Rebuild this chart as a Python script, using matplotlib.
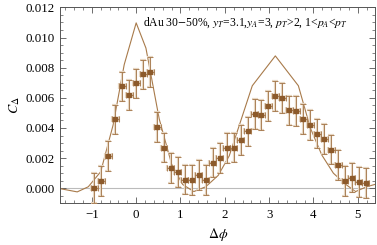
import matplotlib
matplotlib.use("Agg")
import matplotlib.pyplot as plt
from matplotlib.ticker import MultipleLocator

# measured correlation points
dphi = [-0.942, -0.785, -0.628, -0.471, -0.314, -0.157, 0.0, 0.157, 0.314, 0.471,
        0.628, 0.785, 0.942, 1.100, 1.257, 1.414, 1.571, 1.728, 1.885, 2.042,
        2.199, 2.356, 2.513, 2.670, 2.827, 2.985, 3.142, 3.299, 3.456, 3.613,
        3.770, 3.927, 4.084, 4.241, 4.398, 4.555, 4.712, 4.869, 5.027, 5.184]
c_delta = [0.0000, 0.00048, 0.00216, 0.00457, 0.00677, 0.00620, 0.00695, 0.00757, 0.00772, 0.00408,
           0.00269, 0.00136, 0.00108, 0.00057, 0.00057, 0.00090, 0.00053, 0.00170, 0.00200, 0.00265,
           0.00269, 0.00318, 0.00377, 0.00494, 0.00487, 0.00545, 0.00611, 0.00598, 0.00517, 0.00512,
           0.00461, 0.00417, 0.00362, 0.00328, 0.00256, 0.00152, 0.00048, 0.00070, 0.00040, 0.00035]
c_err = [0.00100, 0.00098, 0.00100, 0.00098, 0.00096, 0.00100, 0.00098, 0.00096, 0.00100, 0.00100,
         0.00098, 0.00100, 0.00100, 0.00098, 0.00100, 0.00100, 0.00100, 0.00098, 0.00100, 0.00100,
         0.00098, 0.00100, 0.00098, 0.00100, 0.00098, 0.00100, 0.00100, 0.00098, 0.00098, 0.00100,
         0.00098, 0.00100, 0.00098, 0.00100, 0.00098, 0.00100, 0.00098, 0.00098, 0.00098, 0.00098]
bin_half = 0.0785

# theory curve
theory_x = [-1.85, -1.33, -1.08, -0.80, -0.52, -0.27, 0.0, 0.22, 0.52, 0.80, 1.05, 1.30, 1.57,
            1.85, 2.10, 2.62, 3.14, 3.66, 3.93, 4.19, 4.45, 4.71, 4.95, 5.20, 5.50]
theory_y = [0.00005, -0.00024, 0.00010, 0.00110, 0.00420, 0.00820, 0.01097, 0.00930, 0.00460,
            0.00160, 0.00025, -0.00022, 0.00010, 0.00085, 0.00215, 0.00680, 0.00878, 0.00680,
            0.00400, 0.00220, 0.00100, 0.00030, -0.00022, 0.00010, 0.00035]

plt.rcParams["font.family"] = ["Liberation Serif", "DejaVu Serif"]
plt.rcParams["mathtext.fontset"] = "stix"

brown = "#8c5a2b"
tan = "#e6d6c2"

fig = plt.figure(figsize=(3.77, 2.45), dpi=100)
ax = fig.add_axes([0.159, 0.170, 0.837, 0.800])

ax.axhline(0, color="#bbbbbb", lw=0.8, zorder=1)
ax.plot(theory_x, theory_y, color="#a87a4a", lw=0.8, zorder=2)

# light halo under the error bars
ax.errorbar(dphi, c_delta, yerr=c_err, xerr=bin_half, fmt="none", ecolor=tan,
            elinewidth=1.6, capsize=2.4, capthick=1.6, zorder=3)
ax.errorbar(dphi, c_delta, yerr=c_err, xerr=bin_half, fmt="s", color=brown,
            ecolor="#a27448", elinewidth=0.6, capsize=2.2, capthick=0.6,
            markersize=2.6, zorder=4)

ax.set_xlim(-1.72, 5.40)
ax.set_ylim(-0.001, 0.012)
ax.xaxis.set_major_locator(MultipleLocator(1))
ax.xaxis.set_minor_locator(MultipleLocator(0.2))
ax.yaxis.set_major_locator(MultipleLocator(0.002))
ax.yaxis.set_minor_locator(MultipleLocator(0.0005))
ax.yaxis.set_major_formatter(plt.FuncFormatter(lambda v, p: f"{v:.3f}"))
ax.xaxis.set_major_formatter(plt.FuncFormatter(lambda v, p: f"\u2212{abs(v):.0f}" if v < 0 else f"{v:.0f}"))

ax.tick_params(which="both", direction="in", top=True, right=True, color="#555555",
               labelsize=9.3, pad=4)
ax.tick_params(which="major", length=4, width=0.6)
ax.tick_params(which="minor", length=2, width=0.5)
for s in ax.spines.values():
    s.set_color("#555555")
    s.set_linewidth(0.7)

ax.set_xlabel(r"$\Delta\phi$", fontsize=10, labelpad=4)
ax.set_ylabel(r"$C_\Delta$", fontsize=10, labelpad=2)

ax.text(0.263, 0.92,
        r"dAu 30$-$50%, $y_T$=3.1,$y_A$=3, $p_T$>2, 1<$p_A$<$p_T$",
        transform=ax.transAxes, fontsize=8.4, va="center", ha="left")

fig.savefig("out.png", dpi=100)
